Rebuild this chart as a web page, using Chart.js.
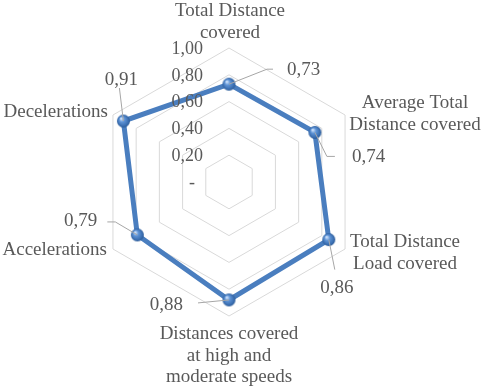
<!DOCTYPE html>
<html>
<head>
<meta charset="utf-8">
<script src="https://cdn.jsdelivr.net/npm/chart.js@4/dist/chart.umd.min.js"></script>
<style>
html,body{margin:0;padding:0;background:#fff;}
canvas{display:block;}
</style>
</head>
<body>
<canvas id="c" width="484" height="389"></canvas>
<script>
const categories = [
  ["Total Distance", "covered"],
  ["Average Total", "Distance covered"],
  ["Total Distance", "Load covered"],
  ["Distances covered", "at high and", "moderate speeds"],
  ["Accelerations"],
  ["Decelerations"]
];
const values = [0.73, 0.74, 0.86, 0.88, 0.79, 0.91];
const valueLabels = ["0,73", "0,74", "0,86", "0,88", "0,79", "0,91"];
const tickLabels = ["-", "0,20", "0,40", "0,60", "0,80", "1,00"];

const FONT = '"Liberation Serif", "Times New Roman", serif';
const TEXT = '#595959';

// sphere marker
function makeSphere(r) {
  const s = Math.ceil(r * 2 + 2);
  const cv = document.createElement('canvas');
  cv.width = s; cv.height = s;
  const g = cv.getContext('2d');
  const c = s / 2;
  const grad = g.createRadialGradient(c - r * 0.35, c - r * 0.4, r * 0.1, c, c, r);
  grad.addColorStop(0, '#c9defa');
  grad.addColorStop(0.35, '#5f94d6');
  grad.addColorStop(0.8, '#3b6fb2');
  grad.addColorStop(1, '#2b5a96');
  g.beginPath();
  g.arc(c, c, r, 0, Math.PI * 2);
  g.fillStyle = grad;
  g.fill();
  return cv;
}
const sphere = makeSphere(6.5);

const catLayout = [
  {align: 'center', dx: 1, dy: -32},
  {align: 'center', dx: 70, dy: -7},
  {align: 'center', dx: 60, dy: -2},
  {align: 'center', dx: 0, dy: 23},
  {align: 'right', dx: -6, dy: 6},
  {align: 'right', dx: -5, dy: 2}
];
const valLayout = [
  {leader: [[38, -15], [44, -15]], align: 'left', dx: 58, dy: -14},
  {leader: [[12, 24], [20, 24]], align: 'left', dx: 37, dy: 25},
  {leader: [[6, 30]], align: 'center', dx: 8, dy: 48},
  {leader: [[-31, 3]], align: 'right', dx: -46, dy: 5},
  {leader: [[-22, -13], [-30, -13]], align: 'right', dx: -40, dy: -14},
  {leader: [[-4, -33]], align: 'center', dx: -2, dy: -41}
];

const labelPlugin = {
  id: 'labelPlugin',
  afterDraw(chart) {
    const ctx = chart.ctx;
    const scale = chart.scales.r;
    ctx.save();
    // tick labels
    ctx.fillStyle = TEXT;
    ctx.font = '18px ' + FONT;
    ctx.textBaseline = 'middle';
    scale.ticks.forEach((t, i) => {
      const d = scale.getDistanceFromCenterForValue(t.value);
      const y = scale.yCenter - d + 1;
      if (i === 0) {
        ctx.textAlign = 'center';
        ctx.fillText(tickLabels[i], scale.xCenter - 37, y);
      } else {
        ctx.textAlign = 'right';
        ctx.fillText(tickLabels[i], scale.xCenter - 26, y);
      }
    });
    // category labels
    ctx.font = '19px ' + FONT;
    ctx.textBaseline = 'alphabetic';
    categories.forEach((lines, i) => {
      const p = scale.getPointPosition(i, scale.drawingArea);
      const L = catLayout[i];
      ctx.textAlign = L.align;
      lines.forEach((ln, j) => {
        ctx.fillText(ln, p.x + L.dx, p.y + L.dy + j * 21.5);
      });
    });
    // leader lines and value labels
    const meta = chart.getDatasetMeta(0);
    ctx.strokeStyle = '#a6a6a6';
    ctx.lineWidth = 1;
    ctx.textBaseline = 'middle';
    meta.data.forEach((pt, i) => {
      const L = valLayout[i];
      ctx.beginPath();
      ctx.moveTo(pt.x, pt.y);
      L.leader.forEach(([lx, ly]) => ctx.lineTo(pt.x + lx, pt.y + ly));
      ctx.stroke();
      ctx.textAlign = L.align;
      ctx.fillText(valueLabels[i], pt.x + L.dx, pt.y + L.dy);
    });
    ctx.restore();
  }
};

new Chart(document.getElementById('c'), {
  type: 'radar',
  data: {
    labels: categories,
    datasets: [{
      data: values,
      borderColor: '#4A7EBF',
      borderWidth: 5,
      fill: false,
      pointStyle: sphere,
      pointRadius: 6.5,
      pointHoverRadius: 6.5
    }]
  },
  options: {
    responsive: false,
    animation: false,
    layout: {padding: {top: 48, bottom: 73, left: 90, right: 116}},
    plugins: {legend: {display: false}, tooltip: {enabled: false}},
    scales: {
      r: {
        min: 0,
        max: 1,
        ticks: {stepSize: 0.2, display: false},
        grid: {color: '#d9d9d9', lineWidth: 1, circular: false},
        angleLines: {display: false},
        pointLabels: {display: false}
      }
    }
  },
  plugins: [labelPlugin]
});
</script>
</body>
</html>
